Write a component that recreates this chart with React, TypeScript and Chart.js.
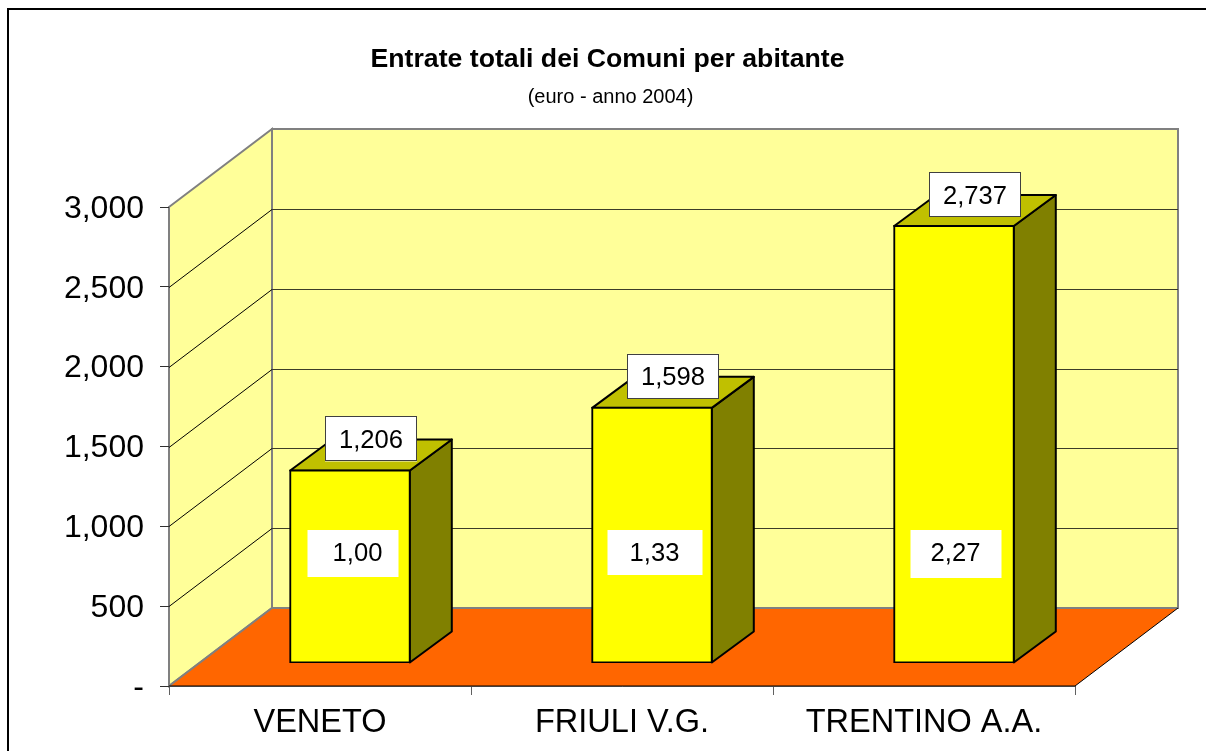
import React, { useEffect, useRef } from "react";
import { Chart, registerables } from "chart.js";

Chart.register(...registerables);

const categories = ["VENETO", "FRIULI V.G.", "TRENTINO A.A."];
const entrate = [1206, 1598, 2737];
const indici = ["1,00", "1,33", "2,27"];
const titleText = "Entrate totali dei Comuni per abitante";
const subtitleText = "(euro - anno 2004)";

const FONT = '"Liberation Sans", Arial, sans-serif';
const WALL_DX = 103;
const WALL_DY = 78;
const BAR_SHIFT_X = 30;
const BAR_SHIFT_Y = 23;
const BAR_DX = 42;
const BAR_DY = 31;

function poly(ctx: CanvasRenderingContext2D, pts: number[][], fill: string | null, stroke: string | null, lw = 1) {
  ctx.beginPath();
  pts.forEach(([x, y], i) => (i ? ctx.lineTo(x, y) : ctx.moveTo(x, y)));
  ctx.closePath();
  if (fill) {
    ctx.fillStyle = fill;
    ctx.fill();
  }
  if (stroke) {
    ctx.strokeStyle = stroke;
    ctx.lineWidth = lw;
    ctx.stroke();
  }
}

const scene3d = {
  id: "scene3d",
  beforeDraw(chart: any) {
    const { ctx, scales } = chart;
    const x = scales.x;
    const y = scales.y;
    const l = x.left;
    const r = x.right;
    const b = y.bottom;
    const t = y.top;
    ctx.save();
    // frame: only top and left edges are visible in the crop
    ctx.fillStyle = "#000";
    ctx.fillRect(7, 8, 1199, 2);
    ctx.fillRect(7, 8, 2, 743);
    // title
    ctx.textAlign = "center";
    ctx.textBaseline = "alphabetic";
    ctx.font = `bold 26.67px ${FONT}`;
    ctx.fillText(titleText, 607.5, 67);
    ctx.font = `20px ${FONT}`;
    ctx.fillText(subtitleText, 610.5, 103);
    // walls
    poly(ctx, [[l, t], [l + WALL_DX, t - WALL_DY], [l + WALL_DX, b - WALL_DY], [l, b]], "#FFFF99", "#808080", 2);
    poly(ctx, [[l + WALL_DX, t - WALL_DY], [r + WALL_DX, t - WALL_DY], [r + WALL_DX, b - WALL_DY], [l + WALL_DX, b - WALL_DY]], "#FFFF99", "#808080", 2);
    // gridlines from the value scale
    y.ticks.forEach((tk: any) => {
      if (tk.value === 0 || tk.value === y.max) return;
      const py = Math.round(y.getPixelForValue(tk.value)) + 0.5;
      ctx.strokeStyle = "#000";
      ctx.lineWidth = 1;
      ctx.beginPath();
      ctx.moveTo(l, py);
      ctx.lineTo(l + WALL_DX, py - WALL_DY);
      ctx.stroke();
      ctx.strokeStyle = "#3c3c28";
      ctx.beginPath();
      ctx.moveTo(l + WALL_DX, py - WALL_DY);
      ctx.lineTo(r + WALL_DX, py - WALL_DY);
      ctx.stroke();
    });
    // floor
    poly(ctx, [[l, b], [l + WALL_DX, b - WALL_DY], [r + WALL_DX, b - WALL_DY], [r, b]], "#FF6600", null);
    ctx.strokeStyle = "#808080";
    ctx.lineWidth = 2;
    ctx.beginPath();
    ctx.moveTo(l, b);
    ctx.lineTo(l + WALL_DX, b - WALL_DY);
    ctx.lineTo(r + WALL_DX, b - WALL_DY);
    ctx.stroke();
    ctx.strokeStyle = "#000";
    ctx.lineWidth = 1;
    ctx.beginPath();
    ctx.moveTo(r + WALL_DX, b - WALL_DY);
    ctx.lineTo(r, b);
    ctx.lineTo(l, b);
    ctx.stroke();
    ctx.restore();
  },
  beforeDatasetsDraw(chart: any) {
    const { ctx } = chart;
    ctx.save();
    ctx.translate(BAR_SHIFT_X, -BAR_SHIFT_Y);
    ctx.lineJoin = "round";
    chart.getDatasetMeta(0).data.forEach((bar: any) => {
      const w = bar.width / 2;
      const L = bar.x - w;
      const R = bar.x + w;
      const T = bar.y;
      const B = bar.base;
      poly(ctx, [[R, T], [R + BAR_DX, T - BAR_DY], [R + BAR_DX, B - BAR_DY], [R, B]], "#808000", "#000", 2);
      poly(ctx, [[L, T], [L + BAR_DX, T - BAR_DY], [R + BAR_DX, T - BAR_DY], [R, T]], "#C0C000", "#000", 2);
    });
  },
  afterDatasetsDraw(chart: any) {
    const { ctx, scales } = chart;
    ctx.restore();
    ctx.save();
    ctx.textAlign = "center";
    ctx.textBaseline = "middle";
    ctx.font = `25.6px ${FONT}`;
    const textShift = [4.5, -0.5, -0.5];
    const boxShift = [3, 3, 2];
    const boxW = [91, 95, 91];
    const boxH = [47, 45, 48];
    chart.getDatasetMeta(0).data.forEach((bar: any, i: number) => {
      const cx = bar.x + BAR_SHIFT_X;
      // value box on the top face
      const bx = cx + BAR_DX / 2;
      const by = bar.y - BAR_SHIFT_Y - BAR_DY / 2 - 16;
      ctx.fillStyle = "#fff";
      ctx.fillRect(bx - 46, by - 22.5, 92, 45);
      ctx.strokeStyle = "#404040";
      ctx.lineWidth = 1;
      ctx.strokeRect(Math.round(bx - 46) + 0.5, Math.round(by - 22.5) + 0.5, 91, 44);
      ctx.fillStyle = "#000";
      ctx.fillText(entrate[i].toLocaleString("en-US"), bx, by + 2);
      // index box on the front face
      const ix = cx + boxShift[i];
      const itop = scales.y.getPixelForValue(0) - 156;
      ctx.fillStyle = "#fff";
      ctx.fillRect(ix - boxW[i] / 2, itop, boxW[i], boxH[i]);
      ctx.fillStyle = "#000";
      ctx.fillText(indici[i], ix + textShift[i], itop + 24);
    });
    ctx.restore();
  },
};

export default function App() {
  const ref = useRef<HTMLCanvasElement>(null);
  useEffect(() => {
    const chart = new Chart(ref.current!, {
      type: "bar",
      data: {
        labels: categories,
        datasets: [
          {
            data: entrate,
            backgroundColor: "#FFFF00",
            borderColor: "#000",
            borderWidth: 2,
            borderSkipped: false,
            inflateAmount: 1,
            barPercentage: 0.396,
            categoryPercentage: 1,
          },
        ],
      },
      options: {
        responsive: false,
        animation: false,
        layout: { padding: { left: 0, right: 131, top: 207, bottom: 0 } },
        plugins: { legend: { display: false }, tooltip: { enabled: false }, title: { display: false } },
        scales: {
          x: {
            afterFit: (s: any) => { s.height = 65; },
            border: { color: "#404040", width: 1 },
            grid: { drawOnChartArea: false, drawTicks: true, tickLength: 9, color: "#606060", offset: true },
            ticks: { color: "#000", font: { family: FONT, size: 32.5 }, padding: 9, maxRotation: 0, autoSkip: false },
          },
          y: {
            min: 0,
            max: 3000,
            afterFit: (s: any) => { s.width = 169; },
            border: { display: false },
            grid: { drawOnChartArea: false, drawTicks: true, tickLength: 9, color: "#303030" },
            ticks: {
              stepSize: 500,
              color: "#000",
              font: { family: FONT, size: 32 },
              padding: 16,
              labelOffset: 2,
              callback: (v: any) => (v === 0 ? "-" : Number(v).toLocaleString("en-US")),
            },
          },
        },
      },
      plugins: [scene3d],
    });
    return () => chart.destroy();
  }, []);
  return (
    <div style={{ position: "absolute", left: 0, top: 0, width: 1206, height: 751, background: "#fff" }}>
      <canvas ref={ref} width={1206} height={751} style={{ display: "block" }} />
    </div>
  );
}
